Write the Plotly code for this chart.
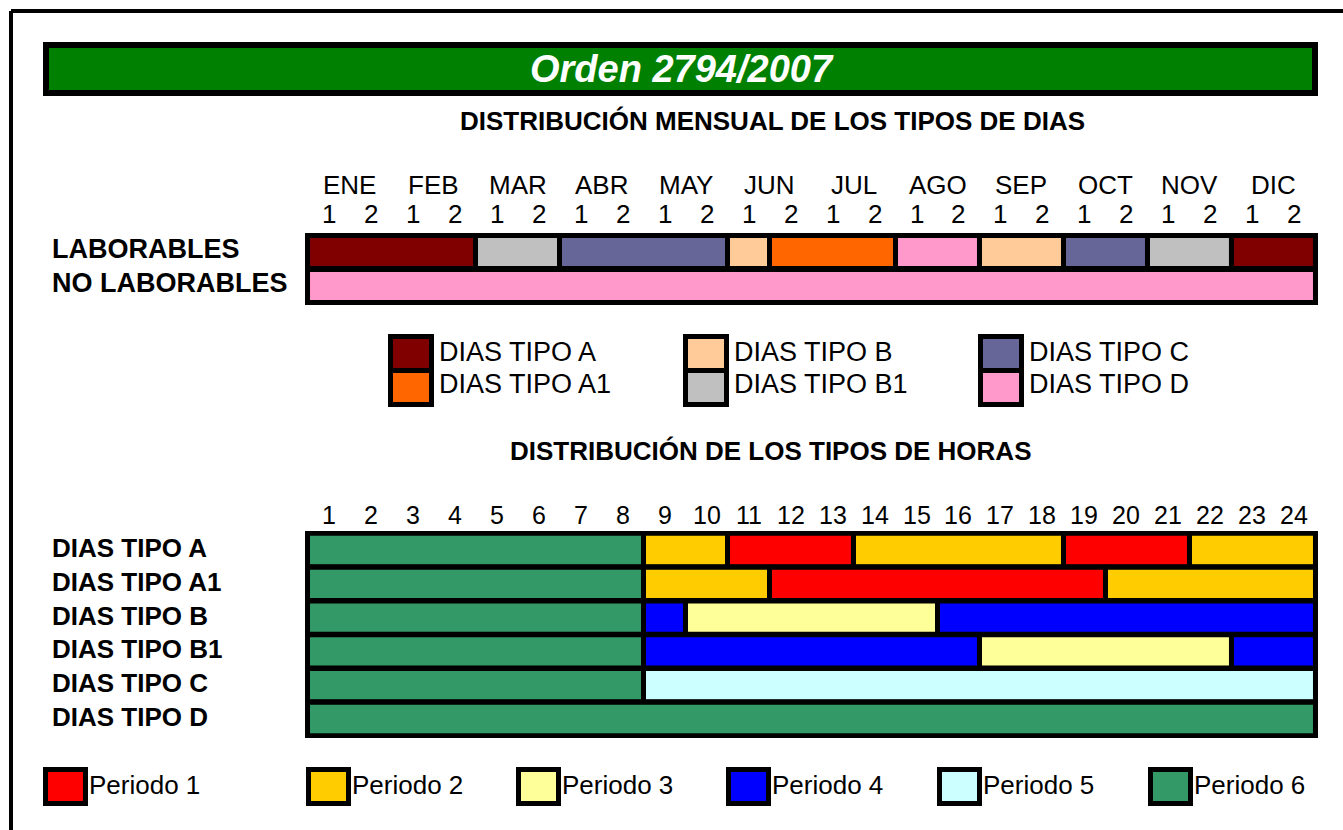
import plotly.graph_objects as go

W, H = 1343, 830
FONT = "Liberation Sans, Arial, sans-serif"

# ---------------- data ----------------
title_text = "Orden 2794/2007"
subtitle_days = "DISTRIBUCIÓN MENSUAL DE LOS TIPOS DE DIAS"
subtitle_hours = "DISTRIBUCIÓN DE LOS TIPOS DE HORAS"

months = ["ENE", "FEB", "MAR", "ABR", "MAY", "JUN", "JUL", "AGO", "SEP", "OCT", "NOV", "DIC"]
half_labels = ["1", "2"]

day_rows = ["LABORABLES", "NO LABORABLES"]
laborables_types = ["A", "B1", "C", "B", "A1", "D", "B", "C", "B1", "A"]
laborables_halves = [4, 2, 4, 1, 3, 2, 2, 2, 2, 2]
no_laborables_types = ["D"]
no_laborables_halves = [24]

day_types = ["A", "A1", "B", "B1", "C", "D"]
day_type_names = ["DIAS TIPO A", "DIAS TIPO A1", "DIAS TIPO B", "DIAS TIPO B1", "DIAS TIPO C", "DIAS TIPO D"]
day_type_colors = ["#800000", "#FF6600", "#FFCC99", "#C0C0C0", "#666699", "#FF99CC"]

hours = list(range(1, 25))
hour_rows = ["DIAS TIPO A", "DIAS TIPO A1", "DIAS TIPO B", "DIAS TIPO B1", "DIAS TIPO C", "DIAS TIPO D"]
row_a_periods = [6, 2, 1, 2, 1, 2]
row_a_hours = [8, 2, 3, 5, 3, 3]
row_a1_periods = [6, 2, 1, 2]
row_a1_hours = [8, 3, 8, 5]
row_b_periods = [6, 4, 3, 4]
row_b_hours = [8, 1, 6, 9]
row_b1_periods = [6, 4, 3, 4]
row_b1_hours = [8, 8, 6, 2]
row_c_periods = [6, 5]
row_c_hours = [8, 16]
row_d_periods = [6]
row_d_hours = [24]

periods = [1, 2, 3, 4, 5, 6]
period_names = ["Periodo 1", "Periodo 2", "Periodo 3", "Periodo 4", "Periodo 5", "Periodo 6"]
period_colors = ["#FF0000", "#FFCC00", "#FFFF99", "#0000FF", "#CCFFFF", "#339966"]

# ---------------- helpers ----------------
def px(x):
    return x / W


def py(y):
    return 1 - y / H


type_color = dict(zip(day_types, day_type_colors))
per_color = dict(zip(periods, period_colors))

fig = go.Figure()

# ---------------- monthly bars ----------------
m_y, m_base, m_len, m_col = [], [], [], []
for row, types, lens in [(day_rows[0], laborables_types, laborables_halves),
                         (day_rows[1], no_laborables_types, no_laborables_halves)]:
    start = 0
    for t, n in zip(types, lens):
        m_y.append(row)
        m_base.append(start)
        m_len.append(n)
        m_col.append(type_color[t])
        start += n

fig.add_trace(go.Bar(
    orientation="h", y=m_y, x=m_len, base=m_base, width=0.97,
    marker=dict(color=m_col, line=dict(color="black", width=5)),
    xaxis="x", yaxis="y", showlegend=False, hoverinfo="skip"))

# ---------------- hourly bars ----------------
hour_data = [(hour_rows[0], row_a_periods, row_a_hours),
             (hour_rows[1], row_a1_periods, row_a1_hours),
             (hour_rows[2], row_b_periods, row_b_hours),
             (hour_rows[3], row_b1_periods, row_b1_hours),
             (hour_rows[4], row_c_periods, row_c_hours),
             (hour_rows[5], row_d_periods, row_d_hours)]
h_y, h_base, h_len, h_col = [], [], [], []
for row, pers, lens in hour_data:
    start = 0
    for p, n in zip(pers, lens):
        h_y.append(row)
        h_base.append(start)
        h_len.append(n)
        h_col.append(per_color[p])
        start += n

fig.add_trace(go.Bar(
    orientation="h", y=h_y, x=h_len, base=h_base, width=0.985,
    marker=dict(color=h_col, line=dict(color="black", width=5)),
    xaxis="x2", yaxis="y2", showlegend=False, hoverinfo="skip"))

axis_off = dict(showgrid=False, zeroline=False, showticklabels=False, showline=False, ticks="",
                fixedrange=True)

fig.update_layout(
    width=W, height=H,
    margin=dict(l=0, r=0, t=0, b=0),
    paper_bgcolor="white", plot_bgcolor="black",
    barmode="overlay",
    xaxis=dict(domain=[px(305), px(1318)], range=[-0.06, 24.06], anchor="y", **axis_off),
    yaxis=dict(domain=[py(305), py(233)], range=[1.559, -0.559], anchor="x",
               type="category", categoryorder="array", categoryarray=day_rows, **axis_off),
    xaxis2=dict(domain=[px(305), px(1318)], range=[-0.06, 24.06], anchor="y2", **axis_off),
    yaxis2=dict(domain=[py(738), py(531)], range=[5.562, -0.562], anchor="x2",
                type="category", categoryorder="array", categoryarray=hour_rows, **axis_off),
)

shapes = []
ann = []

# outer frame (left and top edges)
shapes.append(dict(type="line", xref="paper", yref="paper", x0=px(11), x1=px(1400), y0=py(11), y1=py(11),
                   line=dict(color="black", width=4)))
shapes.append(dict(type="line", xref="paper", yref="paper", x0=px(11), x1=px(11), y0=py(11), y1=py(900),
                   line=dict(color="black", width=4)))

# title banner
shapes.append(dict(type="rect", xref="paper", yref="paper", x0=px(46), x1=px(1315), y0=py(93), y1=py(45),
                   fillcolor="#008000", line=dict(color="black", width=6)))
ann.append(dict(text="<b><i>" + title_text + "</i></b>", xref="paper", yref="paper", x=px(682), y=py(69),
                xanchor="center", yanchor="middle", showarrow=False,
                font=dict(family=FONT, size=38, color="white")))

# subtitles
ann.append(dict(text="<b>" + subtitle_days + "</b>", xref="paper", yref="paper", x=px(772), y=py(121),
                xanchor="center", yanchor="middle", showarrow=False,
                font=dict(family=FONT, size=26, color="black")))
ann.append(dict(text="<b>" + subtitle_hours + "</b>", xref="paper", yref="paper", x=px(771), y=py(451),
                xanchor="center", yanchor="middle", showarrow=False,
                font=dict(family=FONT, size=26, color="black")))

# month labels and half-month labels
for i, m in enumerate(months):
    ann.append(dict(text=m, xref="x", yref="paper", x=2 * i + 1, y=py(185), xanchor="center",
                    yanchor="middle", showarrow=False, font=dict(family=FONT, size=26, color="black")))
    for j, hl in enumerate(half_labels):
        ann.append(dict(text=hl, xref="x", yref="paper", x=2 * i + j + 0.5, y=py(214), xanchor="center",
                        yanchor="middle", showarrow=False, font=dict(family=FONT, size=26, color="black")))

# monthly row labels
for r in day_rows:
    ann.append(dict(text="<b>" + r + "</b>", xref="paper", yref="y", x=px(50), y=r, xanchor="left",
                    yanchor="middle", yshift=3, showarrow=False,
                    font=dict(family=FONT, size=27, color="black")))

# day-type legend (3 columns x 2 rows)
col_frame_x = [388, 683, 978]
for c in range(3):
    x0 = col_frame_x[c]
    shapes.append(dict(type="rect", xref="paper", yref="paper", x0=px(x0), x1=px(x0 + 46),
                       y0=py(407), y1=py(334), fillcolor="black", line=dict(width=0)))
    for r in range(2):
        k = c * 2 + r
        ytop = 339 + r * 34
        shapes.append(dict(type="rect", xref="paper", yref="paper", x0=px(x0 + 5), x1=px(x0 + 41),
                           y0=py(ytop + 29), y1=py(ytop), fillcolor=day_type_colors[k], line=dict(width=0)))
        ann.append(dict(text=day_type_names[k], xref="paper", yref="paper", x=px(x0 + 49), y=py(352 + r * 32),
                        xanchor="left", yanchor="middle", showarrow=False,
                        font=dict(family=FONT, size=27, color="black")))

# hour labels
for h in hours:
    ann.append(dict(text=str(h), xref="x2", yref="paper", x=h - 0.5, y=py(515), xanchor="center",
                    yanchor="middle", showarrow=False, font=dict(family=FONT, size=25, color="black")))

# hourly row labels
for r in hour_rows:
    ann.append(dict(text="<b>" + r + "</b>", xref="paper", yref="y2", x=px(50), y=r, xanchor="left",
                    yanchor="middle", yshift=2, showarrow=False,
                    font=dict(family=FONT, size=26, color="black")))

# period legend
frame_x = [43, 306, 516, 726, 937, 1148]
for i in range(6):
    x0 = frame_x[i]
    shapes.append(dict(type="rect", xref="paper", yref="paper", x0=px(x0), x1=px(x0 + 45),
                       y0=py(806), y1=py(767), fillcolor="black", line=dict(width=0)))
    shapes.append(dict(type="rect", xref="paper", yref="paper", x0=px(x0 + 5), x1=px(x0 + 40),
                       y0=py(801), y1=py(772), fillcolor=period_colors[i], line=dict(width=0)))
    ann.append(dict(text=period_names[i], xref="paper", yref="paper", x=px(x0 + 44), y=py(785),
                    xanchor="left", yanchor="middle", showarrow=False,
                    font=dict(family=FONT, size=26, color="black")))

fig.update_layout(shapes=shapes, annotations=ann)

fig.write_html("out.html", config={"displayModeBar": False},
               post_script="document.body.style.margin='0';document.body.style.overflow='hidden';")
